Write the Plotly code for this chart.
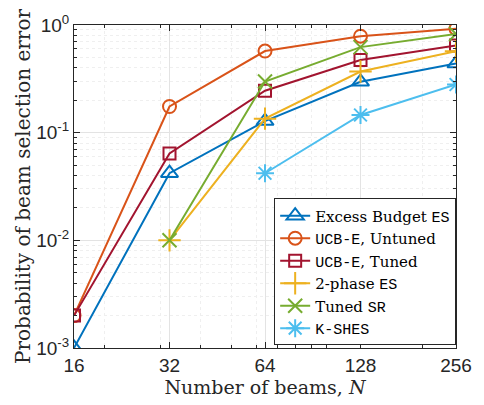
import plotly.graph_objects as go

N = [16, 32, 64, 128, 256]
excess_budget_es = [1e-3, 0.042, 0.128, 0.297, 0.438]
ucbe_untuned = [2e-3, 0.175, 0.573, 0.787, 0.925]
ucbe_tuned = [2e-3, 0.064, 0.245, 0.473, 0.645]
N_2phase = [32, 64, 128, 256]
two_phase_es = [0.01, 0.135, 0.37, 0.57]
N_sr = [32, 64, 128, 256]
tuned_sr = [0.01, 0.299, 0.623, 0.826]
N_kshes = [64, 128, 256]
k_shes = [0.042, 0.146, 0.28]

x_ticks = [16, 32, 64, 128, 256]
x_ticktext = ["16", "32", "64", "128", "256"]
y_ticks = [1e-3, 1e-2, 1e-1, 1]
y_ticktext = ["10<sup>-3</sup>", "10<sup>-2</sup>", "10<sup>-1</sup>", "10<sup>0</sup>"]


def tt(s):
    return f"<span style=\"font-family:Liberation Mono\">{s}</span>"


series = [
    (N, excess_budget_es, "Excess Budget " + tt("ES"), "#0072BD", "triangle-up-open", 15),
    (N, ucbe_untuned, tt("UCB-E") + ", Untuned", "#D95319", "circle-open", 13),
    (N, ucbe_tuned, tt("UCB-E") + ", Tuned", "#A2142F", "square-open", 12),
    (N_2phase, two_phase_es, "2-phase " + tt("ES"), "#EDB120", "cross-thin-open", 16),
    (N_sr, tuned_sr, "Tuned " + tt("SR"), "#77AC30", "x-thin-open", 14),
    (N_kshes, k_shes, tt("K-SHES"), "#4DBEEE", "asterisk-open", 15),
]

fig = go.Figure()
for x, y, name, color, sym, size in series:
    fig.add_trace(go.Scatter(
        x=x, y=y, name=name, mode="lines+markers",
        line=dict(color=color, width=2),
        marker=dict(symbol=sym, size=size, color=color, line=dict(color=color, width=2)),
    ))

minor_x = [20, 30, 40, 50, 60, 70, 80, 90, 100, 200]
minor_y = [m * 10.0 ** e for e in (-3, -2, -1) for m in range(2, 10)]

axis_common = dict(
    showline=True, linecolor="#262626", linewidth=1, mirror="ticks",
    ticks="inside", ticklen=6, tickcolor="#262626",
    showgrid=True, gridcolor="#e3e3e3", gridwidth=1,
    zeroline=False,
    tickfont=dict(family="Liberation Sans", size=19, color="#262626"),
)

fig.update_xaxes(
    type="log", range=[1.2041, 2.4082],
    tickmode="array", tickvals=x_ticks, ticktext=x_ticktext,
    minor=dict(tickvals=minor_x, ticks="inside", ticklen=3, tickcolor="#262626",
               showgrid=True, gridcolor="#efefef", griddash="dot"),
    title=dict(text="Number of beams, <i>N</i>", font=dict(family="DejaVu Serif", size=19, color="#262626"), standoff=4),
    **axis_common,
)
fig.update_yaxes(
    type="log", range=[-3, 0],
    tickmode="array", tickvals=y_ticks, ticktext=y_ticktext,
    minor=dict(tickvals=minor_y, ticks="inside", ticklen=3, tickcolor="#262626",
               showgrid=True, gridcolor="#efefef", griddash="dot"),
    title=dict(text="Probability of beam selection error", font=dict(family="DejaVu Serif", size=20, color="#262626"), standoff=0),
    **axis_common,
)

fig.update_layout(
    width=484, height=405,
    margin=dict(l=74, r=21, t=22, b=57),
    plot_bgcolor="white", paper_bgcolor="white",
    showlegend=True,
    legend=dict(
        x=0.524, y=0.463, xanchor="left", yanchor="top",
        bgcolor="white", bordercolor="#262626", borderwidth=1,
        font=dict(family="DejaVu Serif", size=15, color="#000000"),
        tracegroupgap=0, itemwidth=30,
    ),
)

fig.write_html("out.html")
